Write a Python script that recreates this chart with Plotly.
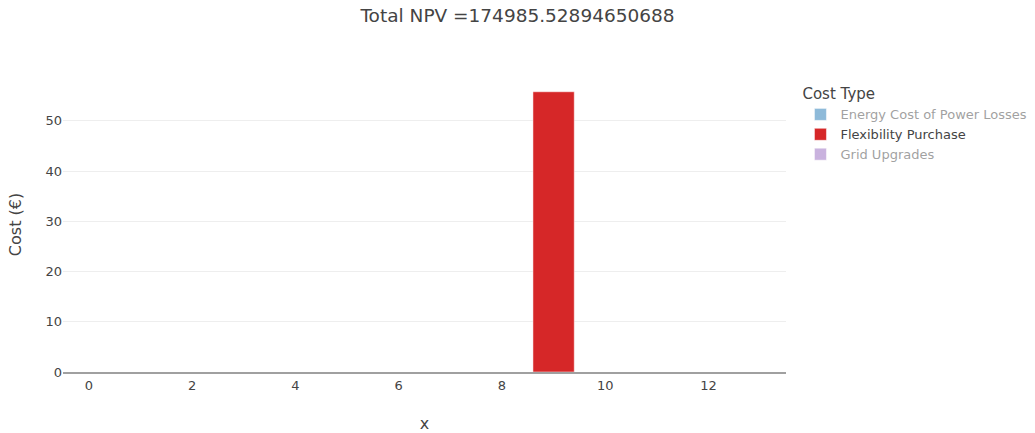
import plotly.graph_objects as go

years = list(range(14))
energy_cost = [0] * 14
flexibility_purchase = [0, 0, 0, 0, 0, 0, 0, 0, 0, 55.8, 0, 0, 0, 0]
grid_upgrades = [0] * 14
total_npv = "174985.52894650688"

fig = go.Figure()
fig.add_trace(go.Bar(x=years, y=energy_cost, name="Energy Cost of Power Losses",
                     marker_color="#1f77b4", visible="legendonly"))
fig.add_trace(go.Bar(x=years, y=flexibility_purchase, name="Flexibility Purchase",
                     marker_color="#d62728"))
fig.add_trace(go.Bar(x=years, y=grid_upgrades, name="Grid Upgrades",
                     marker_color="#9467bd", visible="legendonly"))

for t in fig.data:
    t.marker.line = dict(color="white", width=0.5)

fig.update_layout(
    template="none",
    barmode="stack",
    width=1035, height=433,
    font=dict(family="Verdana, DejaVu Sans, sans-serif", color="#444", size=13),
    title=dict(text="Total NPV =" + total_npv, x=0.5, xanchor="center", y=0.963, yanchor="middle",
               font=dict(size=18.5)),
    margin=dict(l=63, r=249, t=77, b=61, autoexpand=False),
    plot_bgcolor="white", paper_bgcolor="white",
    legend=dict(title=dict(text="Cost Type", font=dict(size=15)), x=1.02, y=0.99, yanchor="top",
                traceorder="normal", tracegroupgap=0),
    xaxis=dict(title=dict(text="x"), range=[-0.5, 13.5], dtick=2, showgrid=False,
               zeroline=False, showline=True, linecolor="#a0a0a0", linewidth=2, ticks=""),
    yaxis=dict(title=dict(text="Cost (€)"), gridcolor="#eee", zeroline=False, showline=False,
               ticks="", dtick=10),
)

fig.write_html("out.html", config={"displayModeBar": False},
               post_script="document.body.style.margin='0px';")
